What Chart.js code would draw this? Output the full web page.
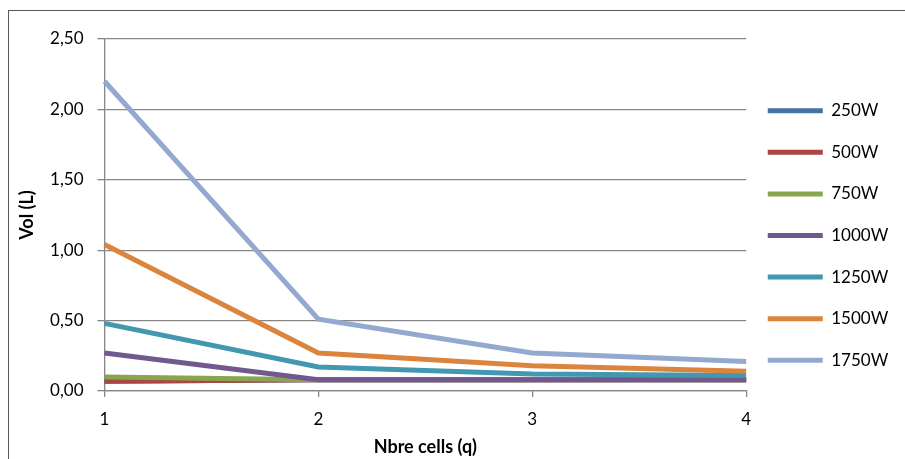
<!DOCTYPE html>
<html>
<head>
<meta charset="utf-8">
<script src="https://cdn.jsdelivr.net/npm/chart.js@4/dist/chart.umd.min.js"></script>
<style>
  html, body { margin: 0; padding: 0; background: #ffffff; }
  #wrap { width: 905px; height: 459px; position: relative; }
</style>
</head>
<body>
<div id="wrap"><canvas id="c" width="905" height="459"></canvas></div>
<script>
const categories = ['1', '2', '3', '4'];
const seriesNames = ['250W', '500W', '750W', '1000W', '1250W', '1500W', '1750W'];
const s250  = [0.07, 0.08, 0.08, 0.08];
const s500  = [0.07, 0.08, 0.08, 0.08];
const s750  = [0.10, 0.08, 0.08, 0.08];
const s1000 = [0.27, 0.08, 0.08, 0.08];
const s1250 = [0.48, 0.17, 0.12, 0.11];
const s1500 = [1.04, 0.27, 0.18, 0.14];
const s1750 = [2.20, 0.51, 0.27, 0.21];
const seriesValues = [s250, s500, s750, s1000, s1250, s1500, s1750];
const yTicks = [0, 0.5, 1.0, 1.5, 2.0, 2.5];
const colors = ['#4572A7', '#AA4643', '#89A54E', '#71588F', '#4198AF', '#DB843D', '#93A9CF'];

const FONT = 'Lato, "Open Sans", sans-serif';

const frame = {
  id: 'frame',
  afterLayout(chart) {
    const lg = chart.legend;
    if (lg) {
      lg.top -= 13.5; lg.bottom -= 13.5;
      lg.left -= 3; lg.right -= 3;
    }
  },
  beforeDraw(chart) {
    const ctx = chart.ctx;
    ctx.save();
    ctx.fillStyle = '#ffffff';
    ctx.fillRect(0, 0, chart.width, chart.height);
    ctx.strokeStyle = '#595959';
    ctx.lineWidth = 1;
    ctx.strokeRect(8.5, 10.5, 1000, 1000);
    ctx.restore();
  }
};

const datasets = seriesNames.map((name, i) => ({
  label: name,
  data: seriesValues[i],
  borderColor: colors[i],
  backgroundColor: colors[i],
  borderWidth: 5,
  pointRadius: 0,
  pointHoverRadius: 0,
  tension: 0,
  fill: false,
  order: seriesNames.length - i
}));

new Chart(document.getElementById('c'), {
  type: 'line',
  data: { labels: categories, datasets },
  plugins: [frame],
  options: {
    responsive: false,
    animation: false,
    events: [],
    layout: { padding: { top: 39, left: 0, bottom: 0, right: 3.7 } },
    plugins: {
      tooltip: { enabled: false },
      legend: {
        position: 'right',
        labels: {
          boxWidth: 55,
          boxHeight: 5,
          padding: 24.6,
          color: '#000000',
          font: { family: FONT, size: 17 },
          useBorderRadius: true,
          borderRadius: 2.5,
          sort: (a, b) => a.datasetIndex - b.datasetIndex,
          generateLabels(chart) {
            return chart.data.datasets.map((ds, i) => ({
              text: ds.label,
              fillStyle: ds.borderColor,
              strokeStyle: ds.borderColor,
              lineWidth: 0,
              hidden: false,
              datasetIndex: i,
              fontColor: '#000000'
            }));
          }
        }
      }
    },
    scales: {
      x: {
        type: 'category',
        offset: false,
        afterFit(scale) { scale.height = 68; },
        grid: { display: true, drawOnChartArea: false, drawTicks: true, tickLength: 6, color: '#868686', lineWidth: 1.3 },
        border: { display: true, color: '#868686', width: 1.3 },
        ticks: { color: '#000000', font: { family: FONT, size: 17 }, padding: 12, maxRotation: 0 },
        title: { display: true, text: 'Nbre cells (q)', color: '#000000', font: { family: FONT, size: 18, weight: 'bold' }, padding: { top: 0, bottom: 1 } }
      },
      y: {
        min: 0,
        max: 2.5,
        afterFit(scale) { scale.width = 104.5; },
        afterBuildTicks(scale) { scale.ticks = yTicks.map(v => ({ value: v })); },
        grid: { display: true, drawOnChartArea: true, drawTicks: true, tickLength: 7, color: '#868686', lineWidth: 1.3 },
        border: { display: true, color: '#868686', width: 1.3 },
        ticks: {
          color: '#000000',
          font: { family: FONT, size: 17 },
          padding: 14,
          callback: (v) => Number(v).toFixed(2).replace('.', ',')
        },
        title: { display: true, text: 'Vol (L)', color: '#000000', font: { family: FONT, size: 18, weight: 'bold' }, padding: { top: 16, bottom: 0 } }
      }
    }
  }
});
</script>
</body>
</html>
